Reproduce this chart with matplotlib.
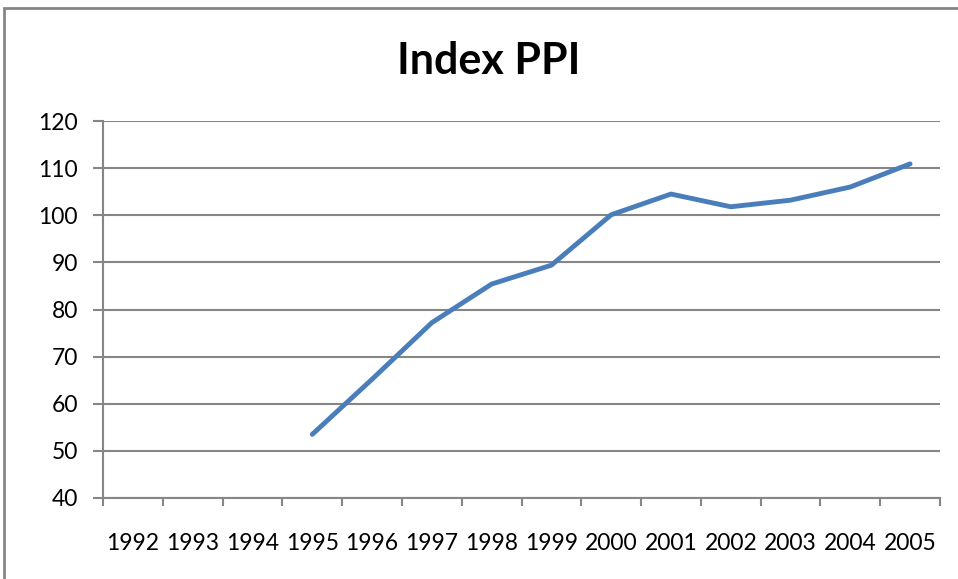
import numpy as np
import matplotlib.pyplot as plt
from matplotlib.patches import Rectangle

years = ["1992", "1993", "1994", "1995", "1996", "1997", "1998",
         "1999", "2000", "2001", "2002", "2003", "2004", "2005"]
ppi = [np.nan, np.nan, np.nan, 53.5, 65.2, 77.2, 85.4,
       89.4, 100.1, 104.5, 101.8, 103.2, 106.0, 110.9]

plt.rcParams["font.family"] = ["Lato", "DejaVu Sans"]
grid_col = "#868686"

fig = plt.figure(figsize=(9.58, 5.79), dpi=100)
# outer chart frame
fig.patches.append(Rectangle((4 / 958, -0.01), 1.0, 1 - 8 / 579 + 0.01,
                             transform=fig.transFigure, fill=False,
                             edgecolor=grid_col, linewidth=2))

ax = fig.add_axes([103 / 958, 1 - 498 / 579, (940 - 103) / 958, (498 - 121) / 579])
x = np.arange(len(years))
ax.plot(x, ppi, color="#4A7EBB", linewidth=3.5, solid_capstyle="round")

ax.set_xlim(-0.5, len(years) - 0.5)
ax.set_ylim(40, 120)
ax.set_yticks(np.arange(40, 121, 10))
ax.set_xticks(x)
ax.set_xticklabels(years)
ax.set_xticks(np.arange(-0.5, len(years)), minor=True)
ax.tick_params(axis="x", which="major", length=0, pad=25, labelsize=16.5)
ax.tick_params(axis="x", which="minor", length=6, width=1.5, color=grid_col)
ax.tick_params(axis="y", length=7, width=1.5, color=grid_col, pad=11, labelsize=16.5)

ax.grid(axis="y", color=grid_col, linewidth=1.5)
ax.set_axisbelow(True)
for s in ["top", "right"]:
    ax.spines[s].set_visible(False)
for s in ["left", "bottom"]:
    ax.spines[s].set_color(grid_col)
    ax.spines[s].set_linewidth(1.5)

fig.text(489 / 958, 1 - 61 / 579, "Index PPI", ha="center", va="center",
         fontsize=31, fontweight="bold")

plt.savefig("out.png", dpi=100)
